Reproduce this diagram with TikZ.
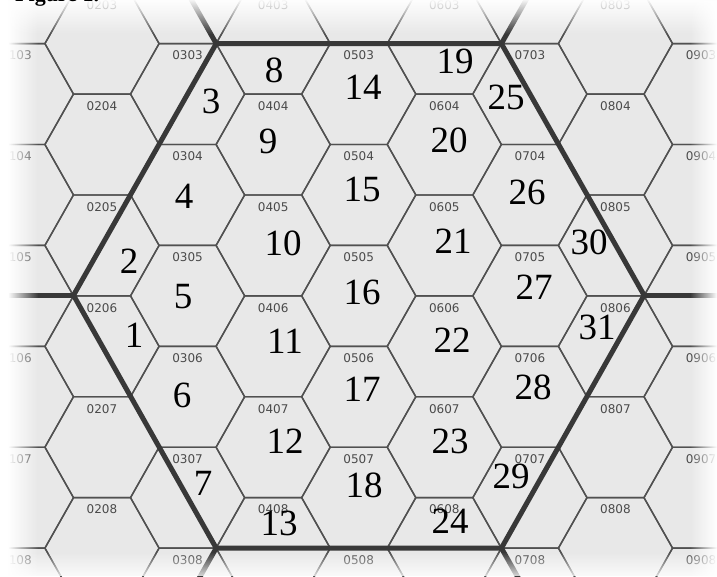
\documentclass[tikz,border=0pt]{standalone}
\usepackage{fontspec}
\setmainfont{Liberation Serif}
\newfontfamily\labelfont{DejaVu Sans}
\usepackage{tikz}
\usetikzlibrary{fadings, calc}
\definecolor{hexfill}{HTML}{E8E8E8}
\definecolor{hexedge}{HTML}{505050}
\definecolor{border}{HTML}{383838}
\definecolor{labelgray}{HTML}{4A4A4A}
\tikzset{
  hexline/.style={draw=hexedge, line width=1.4pt, line join=round},
  hexlabel/.style={font=\labelfont\fontsize{12}{12}\selectfont,
                   text=labelgray, inner sep=0pt},
  bignum/.style={font=\fontsize{37}{37}\selectfont, text=black,
                 inner sep=0pt},
  region/.style={draw=border, line width=5pt, line join=round,
                 line cap=round},
}
\tikzfading[name=fromleft, left color=transparent!0, right color=transparent!100]
\tikzfading[name=fromright, left color=transparent!100, right color=transparent!0]
\tikzfading[name=fromtop, top color=transparent!5, bottom color=transparent!100]
\tikzfading[name=frombottom, top color=transparent!100, bottom color=transparent!20]

\begin{document}
\begin{tikzpicture}[x=1pt, y=-1pt]
  \useasboundingbox (0,0) rectangle (717,576);
  \clip (0,0) rectangle (717,576);
  \fill[hexfill] (0,0) rectangle (717,576);

  % hex grid with cell numbers
  \foreach \c in {1,...,9}{
    \foreach \r in {1,...,9}{
      \pgfmathsetmacro\hx{102+(\c-2)*85.58}
      \pgfmathsetmacro\hy{144.5+(\r-4)*100.9+50.45*mod(\c,2)}
      \draw[hexline] (\hx-57.1,\hy) -- ++(28.55,-50.45) -- ++(57.1,0)
        -- ++(28.55,50.45) -- ++(-28.55,50.45) -- ++(-57.1,0) -- cycle;
      \node[hexlabel] (h0\c0\r) at (\hx,\hy-38.5) {0\c0\r};
    }
  }

  % region border
  \coordinate (tl) at (216.2,43.6);
  \coordinate (tr) at (501.4,43.6);
  \coordinate (rt) at (644.1,295.3);
  \coordinate (br) at (501.4,548.1);
  \coordinate (bl) at (216.2,548.1);
  \coordinate (lf) at (73.5,295.3);
  \draw[region] (tl) -- (tr) -- (rt) -- (br) -- (bl) -- (lf) -- cycle;
  \draw[region] (tl) -- ++(-43,-76);
  \draw[region] (tr) -- ++(43,-76);
  \draw[region] (rt) -- ++(80,0);
  \draw[region] (br) -- ++(43,76);
  \draw[region] (bl) -- ++(-43,76);
  \draw[region] (lf) -- ++(-80,0);

  % zone numbers
  \foreach \n/\px/\py in {1/134/335, 2/129/261, 3/211/101, 4/184/196,
      5/183/297, 6/182/395, 7/203/483, 8/274/70, 9/268/141, 10/283/243,
      11/285/341, 12/285/441, 13/279/523, 14/363/87, 15/362/189,
      16/362/292, 17/362/389, 18/364/485, 19/455/61, 20/449/140,
      21/453/241, 22/452/340, 23/450/441, 24/450/521, 25/506/97,
      26/527/192, 27/534/287, 28/533/387, 29/511/476, 30/589/242,
      31/597/327}
    \node[bignum] (n\n) at (\px,\py) {\n};

  % white vignette at the edges
  \fill[white] (0,0) rectangle (8,576);
  \fill[white, path fading=fromleft] (8,0) rectangle (38,576);
  \fill[white, path fading=fromtop] (0,0) rectangle (717,34);
  \fill[white, path fading=fromright] (690,0) rectangle (717,576);
  \fill[white, path fading=frombottom] (0,552) rectangle (717,576);

  \node[anchor=base west, inner sep=0pt,
        font=\bfseries\fontsize{22}{22}\selectfont] (title) at (15,1.2) {Figure 1.};
\end{tikzpicture}
\end{document}
